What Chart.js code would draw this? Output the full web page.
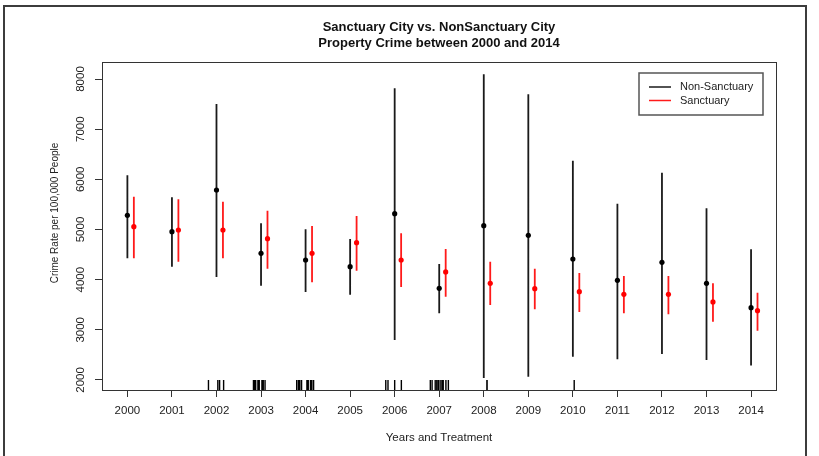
<!DOCTYPE html>
<html>
<head>
<meta charset="utf-8">
<script src="https://cdn.jsdelivr.net/npm/chart.js@4.4.1/dist/chart.umd.min.js"></script>
<style>
  body { margin: 0; background: #fff; }
  #wrap { position: relative; width: 819px; height: 456px; }
  #frame { position: absolute; left: 3px; top: 5px; width: 800px; height: 460px; border: 2px solid #3c3c3c; border-bottom: none; pointer-events: none; }
</style>
</head>
<body>
<div id="wrap">
  <canvas id="crimeChart" width="819" height="456"></canvas>
  <div id="frame"></div>
</div>
<script>
// Property crime per 100,000 people: mean and interval per year
const years = [2000, 2001, 2002, 2003, 2004, 2005, 2006, 2007, 2008, 2009, 2010, 2011, 2012, 2013, 2014];

const nonMean = [5283, 4957, 5787, 4525, 4392, 4259, 5315, 3827, 5076, 4884, 4412, 3987, 4346, 3927, 3441];
const nonLow  = [4425, 4259, 4053, 3880, 3754, 3700, 2797, 3329, 2040, 2066, 2465, 2412, 2518, 2399, 2286];
const nonHigh = [6080, 5641, 7501, 5123, 5003, 4810, 7814, 4312, 8097, 7694, 6372, 5515, 6133, 5422, 4605];

const sancMean = [5056, 4990, 4990, 4817, 4525, 4737, 4392, 4153, 3927, 3820, 3761, 3708, 3708, 3555, 3381];
const sancLow  = [4425, 4359, 4425, 4219, 3947, 4179, 3854, 3661, 3495, 3409, 3355, 3329, 3309, 3162, 2983];
const sancHigh = [5654, 5601, 5554, 5375, 5070, 5269, 4924, 4611, 4359, 4219, 4133, 4073, 4073, 3927, 3741];

// treatment (adoption) dates shown as a rug along the bottom
const treatmentDates = [
  2001.82, 2002.03, 2002.07, 2002.16,
  2002.83, 2002.86, 2002.88, 2002.93, 2002.96, 2003.02, 2003.05, 2003.09,
  2003.80, 2003.84, 2003.87, 2003.91, 2004.03, 2004.06, 2004.11, 2004.14, 2004.18,
  2005.80, 2005.85, 2006.00, 2006.15,
  2006.80, 2006.84, 2006.91, 2006.945, 2006.98, 2007.02, 2007.06, 2007.09, 2007.15, 2007.205,
  2008.07, 2008.075, 2010.03
];

const yTicks = [2000, 3000, 4000, 5000, 6000, 7000, 8000];

const SANC_SHIFT = 0.145;   // sanctuary bars sit just right of the year
const RUG_TOP = 2000;
const NON_COLOR = "#1a1a1a";
const SANC_COLOR = "#ff1a1a";
const FONT = "'Liberation Sans', Arial, sans-serif";
const Y_TITLE = "Crime Rate per 100,000 People";

// vertical segments separated by null gaps
function segments(xs, lows, highs) {
    const pts = [];
    xs.forEach((x, i) => {
        pts.push({ x: x, y: lows[i] }, { x: x, y: highs[i] }, { x: x, y: null });
    });
    return pts;
}

const sancYears = years.map(y => y + SANC_SHIFT);

const plotBox = {
    id: "plotBox",
    afterDraw(chart) {
        const { ctx, chartArea } = chart;
        ctx.save();
        ctx.strokeStyle = "#333";
        ctx.lineWidth = 1;
        ctx.strokeRect(chartArea.left + 0.5, chartArea.top + 0.5,
            chartArea.right - chartArea.left, chartArea.bottom - chartArea.top);
        ctx.restore();
    }
};

// y axis title, a little above the middle of the plot
const yTitle = {
    id: "yTitle",
    afterDraw(chart) {
        const { ctx, chartArea } = chart;
        ctx.save();
        ctx.translate(chart.scales.y.left + 55, (chartArea.top + chartArea.bottom) / 2 - 13);
        ctx.rotate(-Math.PI / 2);
        ctx.font = "10px " + FONT;
        ctx.fillStyle = "#222";
        ctx.textAlign = "center";
        ctx.textBaseline = "middle";
        ctx.fillText(Y_TITLE, 0, 0);
        ctx.restore();
    }
};

const legendBox = {
    id: "legendBox",
    afterDraw(chart) {
        const { ctx, chartArea } = chart;
        const items = [
            { label: "Non-Sanctuary", color: NON_COLOR },
            { label: "Sanctuary", color: SANC_COLOR }
        ];
        const w = 124, h = 42;
        const x0 = chartArea.right - 13 - w;
        const y0 = chartArea.top + 11;
        ctx.save();
        ctx.fillStyle = "#fff";
        ctx.fillRect(x0, y0, w, h);
        ctx.strokeStyle = "#555";
        ctx.lineWidth = 1.5;
        ctx.strokeRect(x0, y0, w, h);
        ctx.font = "11px " + FONT;
        ctx.textBaseline = "middle";
        items.forEach((item, i) => {
            const y = y0 + 14 + i * 13.5;
            ctx.strokeStyle = item.color;
            ctx.lineWidth = 1.5;
            ctx.beginPath();
            ctx.moveTo(x0 + 10, y);
            ctx.lineTo(x0 + 32, y);
            ctx.stroke();
            ctx.fillStyle = "#222";
            ctx.fillText(item.label, x0 + 41, y);
        });
        ctx.restore();
    }
};

const ctx = document.getElementById("crimeChart").getContext("2d");
new Chart(ctx, {
    type: "scatter",
    data: {
        datasets: [
            {
                label: "Non-Sanctuary",
                data: years.map((x, i) => ({ x: x, y: nonMean[i] })),
                backgroundColor: "#000",
                borderWidth: 0,
                pointRadius: 2.6
            },
            {
                label: "Sanctuary",
                data: sancYears.map((x, i) => ({ x: x, y: sancMean[i] })),
                backgroundColor: "#ff0000",
                borderWidth: 0,
                pointRadius: 2.6
            },
            {
                label: "Non-Sanctuary range",
                data: segments(years, nonLow, nonHigh),
                showLine: true,
                spanGaps: false,
                borderColor: NON_COLOR,
                borderWidth: 1.8,
                pointRadius: 0
            },
            {
                label: "Sanctuary range",
                data: segments(sancYears, sancLow, sancHigh),
                showLine: true,
                spanGaps: false,
                borderColor: SANC_COLOR,
                borderWidth: 1.8,
                pointRadius: 0
            },
            {
                label: "Treatment",
                data: segments(treatmentDates, treatmentDates.map(() => 1800), treatmentDates.map(() => RUG_TOP)),
                showLine: true,
                spanGaps: false,
                borderColor: "#000",
                borderWidth: 1.4,
                pointRadius: 0
            }
        ]
    },
    options: {
        responsive: false,
        animation: false,
        devicePixelRatio: 1,
        layout: {
            padding: { left: 0, top: 0, right: 43, bottom: 0 }
        },
        scales: {
            x: {
                type: "linear",
                min: 1999.43,
                max: 2014.56,
                afterBuildTicks: scale => { scale.ticks = years.map(v => ({ value: v })); },
                afterFit: scale => { scale.height = 66; },
                border: { display: false },
                grid: { drawOnChartArea: false, drawTicks: true, tickLength: 7, color: "#333" },
                ticks: {
                    padding: 7,
                    color: "#222",
                    maxRotation: 0,
                    font: { family: FONT, size: 11.5 },
                    callback: v => String(v)
                },
                title: {
                    display: true,
                    text: "Years and Treatment",
                    color: "#222",
                    font: { family: FONT, size: 11.5 },
                    padding: { top: 0, bottom: 11 }
                }
            },
            y: {
                type: "linear",
                min: 1800,
                max: 8339,
                afterBuildTicks: scale => { scale.ticks = yTicks.map(v => ({ value: v })); },
                afterFit: scale => { scale.width = 102; },
                border: { display: false },
                grid: { drawOnChartArea: false, drawTicks: true, tickLength: 7, color: "#333" },
                ticks: {
                    padding: 1,
                    color: "#222",
                    minRotation: 90,
                    maxRotation: 90,
                    crossAlign: "center",
                    font: { family: FONT, size: 11.5 },
                    callback: v => String(v)
                }
            }
        },
        plugins: {
            legend: { display: false },
            tooltip: { enabled: false },
            title: {
                display: true,
                fullSize: false,
                text: ["Sanctuary City vs. NonSanctuary City", "Property Crime between 2000 and 2014"],
                color: "#111",
                font: { family: FONT, size: 13, weight: "bold", lineHeight: 1.3 },
                padding: { top: 18.5, bottom: 9.7 }
            }
        }
    },
    plugins: [plotBox, yTitle, legendBox]
});
</script>
</body>
</html>
